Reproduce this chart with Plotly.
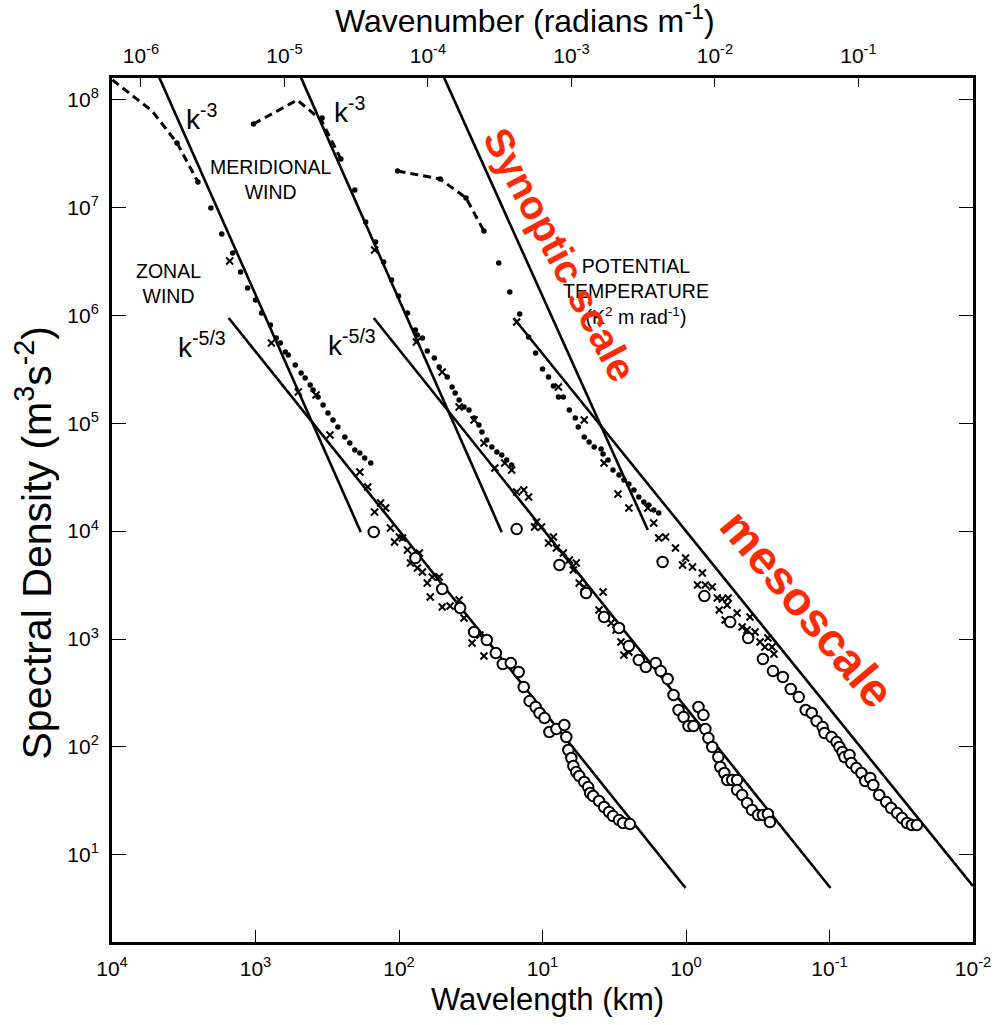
import plotly.graph_objects as go

# All values are log10(wavelength in km) and log10(spectral density)
# ---------------- ZONAL WIND ----------------
zonal_dot_lw = [3.547, 3.401, 3.311, 3.235, 3.159, 3.104, 3.055, 3.000, 2.958, 2.896,
                2.855, 2.827, 2.792, 2.772, 2.723, 2.682, 2.654, 2.619, 2.599, 2.564,
                2.529, 2.495, 2.460, 2.426, 2.377, 2.343, 2.308, 2.273, 2.239, 2.197]
zonal_dot_ls = [7.597, 7.235, 6.994, 6.753, 6.577, 6.401, 6.253, 6.142, 6.021, 5.910,
                5.790, 5.743, 5.660, 5.632, 5.539, 5.465, 5.419, 5.354, 5.308, 5.243,
                5.169, 5.094, 5.030, 4.965, 4.872, 4.816, 4.752, 4.724, 4.677, 4.631]
zonal_x_lw = [3.180, 2.889, 2.702, 2.578, 2.481, 2.273, 2.218, 2.128, 2.093, 2.170,
              2.059, 1.997, 2.031, 1.976, 1.941, 1.920, 1.872, 1.837, 1.858, 1.803,
              1.768, 1.720, 1.782, 1.699, 1.644, 1.581, 1.547, 1.491, 1.408, 1.436]
zonal_x_ls = [6.503, 5.743, 5.289, 5.261, 4.891, 4.548, 4.409, 4.260, 4.214, 4.177,
              4.029, 3.945, 3.899, 3.936, 3.825, 3.704, 3.658, 3.621, 3.797, 3.519,
              3.574, 3.574, 3.389, 3.296, 3.306, 3.361, 3.195, 2.963, 2.842, 3.037]
zonal_o_lw = [2.176, 1.886, 1.699, 1.574, 1.477, 1.388, 1.325, 1.277, 1.221, 1.166,
              1.131, 1.090, 1.048, 1.021, 0.986, 0.952, 0.903, 0.848, 0.834, 0.820,
              0.799, 0.785, 0.765, 0.744, 0.709, 0.682, 0.668, 0.647, 0.606, 0.571,
              0.536, 0.509, 0.467, 0.439, 0.391]
zonal_o_ls = [3.992, 3.751, 3.463, 3.287, 3.065, 2.991, 2.870, 2.768, 2.777, 2.694,
              2.555, 2.425, 2.370, 2.314, 2.268, 2.138, 2.166, 2.203, 2.092, 1.971,
              1.897, 1.823, 1.767, 1.730, 1.675, 1.628, 1.573, 1.545, 1.499, 1.443,
              1.397, 1.359, 1.322, 1.295, 1.285]
zonal_dash_lw = [3.997, 3.720, 3.547, 3.401]
zonal_dash_ls = [8.181, 7.893, 7.597, 7.235]

# ---------------- MERIDIONAL WIND ----------------
merid_dot_lw = [3.014, 2.536, 2.405, 2.308, 2.232, 2.163, 2.107, 2.052, 2.003, 1.941,
                1.886, 1.872, 1.837, 1.803, 1.754, 1.720, 1.664, 1.630, 1.609, 1.581,
                1.547, 1.512, 1.477, 1.443, 1.422, 1.388, 1.353, 1.318, 1.284, 1.249, 1.215]
merid_dot_ls = [7.773, 7.828, 7.448, 7.161, 6.865, 6.679, 6.494, 6.327, 6.179, 6.021,
                5.864, 5.817, 5.790, 5.669, 5.604, 5.521, 5.428, 5.335, 5.280, 5.215,
                5.150, 5.122, 5.048, 4.983, 4.918, 4.844, 4.779, 4.733, 4.705, 4.659, 4.613]
merid_x_lw = [2.170, 1.879, 1.699, 1.581, 1.477, 1.408, 1.332, 1.263, 1.215, 1.180,
              1.131, 1.097, 1.042, 1.007, 1.055, 0.924, 0.958, 0.903, 0.855, 0.813,
              0.765, 0.785, 0.744, 0.709, 0.578, 0.606, 0.522, 0.488, 0.453, 0.398, 0.433]
merid_x_ls = [6.605, 5.752, 5.474, 5.150, 5.030, 4.816, 4.585, 4.631, 4.566, 4.362,
              4.381, 4.316, 4.084, 4.038, 4.038, 3.945, 3.890, 3.843, 3.797, 3.732,
              3.704, 3.639, 3.519, 3.482, 3.435, 3.269, 3.148, 3.083, 2.972, 2.879, 2.852]
merid_o_lw = [1.180, 0.882, 0.696, 0.571, 0.467, 0.398, 0.329, 0.280, 0.211, 0.176,
              0.128, 0.087, 0.052, 0.017, -0.017, -0.052, -0.087, -0.121, -0.135, -0.156,
              -0.183, -0.225, -0.239, -0.267, -0.287, -0.322, -0.356, -0.356, -0.391, -0.426,
              -0.460, -0.502, -0.536, -0.571, -0.585]
merid_o_ls = [4.019, 3.686, 3.426, 3.204, 3.102, 2.935, 2.805, 2.740, 2.777, 2.703,
              2.629, 2.481, 2.342, 2.277, 2.194, 2.194, 2.370, 2.296, 2.166, 2.082,
              1.999, 1.906, 1.814, 1.758, 1.693, 1.693, 1.693, 1.600, 1.554, 1.480,
              1.415, 1.369, 1.369, 1.378, 1.304]
merid_dash_lw = [3.014, 2.709, 2.543, 2.405]
merid_dash_ls = [7.773, 7.995, 7.810, 7.448]

# ---------------- POTENTIAL TEMPERATURE ----------------
pt_dot_lw = [2.010, 1.713, 1.533, 1.408, 1.305, 1.228, 1.159, 1.097, 1.048, 1.000,
             0.958, 0.924, 0.889, 0.855, 0.813, 0.772, 0.751, 0.709, 0.675, 0.640,
             0.592, 0.578, 0.543, 0.509, 0.467, 0.433, 0.398, 0.363, 0.329, 0.294,
             0.260, 0.225, 0.190]
pt_dot_ls = [7.337, 7.263, 7.087, 6.781, 6.485, 6.216, 6.012, 5.799, 5.650, 5.502,
             5.428, 5.345, 5.243, 5.243, 5.122, 5.048, 4.965, 4.872, 4.826, 4.779,
             4.761, 4.714, 4.659, 4.566, 4.520, 4.473, 4.436, 4.381, 4.316, 4.270,
             4.242, 4.195, 4.168]
pt_x_lw = [1.180, 0.889, 0.709, 0.571, 0.474, 0.398, 0.266, 0.225, 0.190, 0.142,
           0.073, 0.003, 0.024, -0.045, -0.114, -0.080, -0.135, -0.183, -0.218, -0.253,
           -0.294, -0.232, -0.287, -0.356, -0.273, -0.391, -0.446, -0.426, -0.481, -0.516,
           -0.571, -0.550, -0.599, -0.613]
pt_x_ls = [5.938, 5.335, 5.030, 4.631, 4.344, 4.214, 4.214, 4.075, 3.936, 3.945,
           3.843, 3.751, 3.686, 3.667, 3.612, 3.500, 3.500, 3.482, 3.380, 3.371,
           3.380, 3.269, 3.315, 3.241, 3.176, 3.111, 3.204, 3.083, 3.065, 2.972,
           3.009, 2.926, 2.926, 2.861]
pt_o_lw = [0.163, -0.128, -0.308, -0.433, -0.536, -0.606, -0.675, -0.730, -0.786, -0.834,
           -0.876, -0.910, -0.952, -0.965, -1.014, -1.049, -1.069, -1.090, -1.104, -1.139,
           -1.152, -1.187, -1.222, -1.249, -1.284, -1.305, -1.346, -1.395, -1.429, -1.471,
           -1.505, -1.540, -1.574, -1.609]
pt_o_ls = [3.714, 3.398, 3.157, 3.009, 2.815, 2.703, 2.648, 2.537, 2.462, 2.342,
           2.314, 2.240, 2.184, 2.129, 2.092, 2.045, 1.999, 1.953, 1.906, 1.925,
           1.851, 1.804, 1.758, 1.684, 1.712, 1.647, 1.554, 1.489, 1.434, 1.387,
           1.341, 1.295, 1.276, 1.276]
pt_dash_lw = [2.010, 1.713, 1.533, 1.408]
pt_dash_ls = [7.337, 7.263, 7.087, 6.781]

# ---------------- reference power-law lines (k^-3, k^-5/3) ----------------
ref_lines = {
    "zonal_k3":  ([3.671, 2.266], [8.205, 3.990]),
    "zonal_k53": ([3.187, 0.003], [5.975, 0.692]),
    "merid_k3":  ([2.682, 1.284], [8.200, 3.990]),
    "merid_k53": ([2.176, -1.007], [5.975, 0.692]),
    "pt_k3":     ([1.685, 0.266], [8.200, 4.010]),
    "pt_k53":    ([1.201, -2.000], [5.975, 0.710]),
}

# ---------------- tick labels ----------------
wl_ticks = [4, 3, 2, 1, 0, -1, -2]
wn_ticks = [-6, -5, -4, -3, -2, -1]
sd_ticks = [1, 2, 3, 4, 5, 6, 7, 8]


def p10(v):
    return [10 ** a for a in v]


fig = go.Figure()

BLACK = "black"
for lw, ls in [(zonal_dash_lw, zonal_dash_ls), (merid_dash_lw, merid_dash_ls),
               (pt_dash_lw, pt_dash_ls)]:
    fig.add_trace(go.Scatter(x=p10(lw), y=p10(ls), mode="lines",
                             line=dict(color=BLACK, width=3, dash="8px,5px"),
                             showlegend=False, hoverinfo="skip"))

for name, (lw, ls) in ref_lines.items():
    fig.add_trace(go.Scatter(x=p10(lw), y=p10(ls), mode="lines",
                             line=dict(color=BLACK, width=2.6),
                             showlegend=False, hoverinfo="skip"))

for lw, ls in [(zonal_dot_lw, zonal_dot_ls), (merid_dot_lw, merid_dot_ls),
               (pt_dot_lw, pt_dot_ls)]:
    fig.add_trace(go.Scatter(x=p10(lw), y=p10(ls), mode="markers",
                             marker=dict(symbol="circle", size=5.5, color=BLACK),
                             showlegend=False))

for lw, ls in [(zonal_x_lw, zonal_x_ls), (merid_x_lw, merid_x_ls),
               (pt_x_lw, pt_x_ls)]:
    fig.add_trace(go.Scatter(x=p10(lw), y=p10(ls), mode="markers",
                             marker=dict(symbol="x-thin", size=7, color=BLACK,
                                         line=dict(width=2, color=BLACK)),
                             showlegend=False))

for lw, ls in [(zonal_o_lw, zonal_o_ls), (merid_o_lw, merid_o_ls),
               (pt_o_lw, pt_o_ls)]:
    fig.add_trace(go.Scatter(x=p10(lw), y=p10(ls), mode="markers",
                             marker=dict(symbol="circle", size=10.5, color="white",
                                         line=dict(width=2, color=BLACK)),
                             showlegend=False))

# invisible trace to activate top axis
fig.add_trace(go.Scatter(x=[10 ** -3], y=[10 ** 4], xaxis="x2", mode="markers",
                         marker=dict(opacity=0), showlegend=False, hoverinfo="skip"))

SANS = "Liberation Sans, Arial, sans-serif"


def sup(e):
    return "10<sup>%d</sup>" % e


fig.update_layout(
    width=1003, height=1025,
    margin=dict(l=112, r=24, t=78, b=83),
    paper_bgcolor="white", plot_bgcolor="white",
    xaxis=dict(type="log", range=[4.0, -2.0], showgrid=False, zeroline=False,
               showline=True, linecolor=BLACK, linewidth=3, mirror=False,
               ticks="inside", ticklen=12, tickwidth=1.2, tickcolor=BLACK,
               tickvals=p10(wl_ticks), ticktext=[sup(e) for e in wl_ticks],
               tickfont=dict(family=SANS, size=21, color=BLACK),
               ticklabelstandoff=6),
    xaxis2=dict(type="log", overlaying="x", side="top",
                range=[-6.2018, -0.2018], showgrid=False, zeroline=False,
                showline=True, linecolor=BLACK, linewidth=3,
                ticks="inside", ticklen=9, tickwidth=1.2, tickcolor=BLACK,
                tickvals=p10(wn_ticks), ticktext=[sup(e) for e in wn_ticks],
                tickfont=dict(family=SANS, size=21, color=BLACK),
                ticklabelstandoff=4),
    yaxis=dict(type="log", range=[0.192, 8.199], showgrid=False, zeroline=False,
               showline=True, linecolor=BLACK, linewidth=3, mirror="ticks",
               ticks="inside", ticklen=14, tickwidth=1.2, tickcolor=BLACK,
               tickvals=p10(sd_ticks), ticktext=[sup(e) for e in sd_ticks],
               tickfont=dict(family=SANS, size=21, color=BLACK),
               ticklabelstandoff=6),
)

ann = []
# axis titles
ann.append(dict(text="Wavelength (km)", xref="paper", yref="paper", x=0.506, y=-0.067,
                xanchor="center", yanchor="middle", showarrow=False,
                font=dict(family=SANS, size=31, color=BLACK)))
ann.append(dict(text="Wavenumber (radians m<sup>-1</sup>)", xref="paper", yref="paper",
                x=0.48, y=1.0683, xanchor="center", yanchor="middle", showarrow=False,
                font=dict(family=SANS, size=32, color=BLACK)))
ann.append(dict(text="Spectral Density (m<sup>3</sup>s<sup>-2</sup>)", xref="paper",
                yref="paper", x=-0.091, y=0.462, xanchor="center", yanchor="middle",
                textangle=-90, showarrow=False,
                font=dict(family=SANS, size=41, color=BLACK)))

# k labels
for (x, y, t) in [(3.374, 7.838, "k<sup>-3</sup>"), (2.343, 7.903, "k<sup>-3</sup>"),
                  (3.374, 5.725, "k<sup>-5/3</sup>"), (2.329, 5.743, "k<sup>-5/3</sup>")]:
    ann.append(dict(text=t, x=x, y=y, xref="x", yref="y", showarrow=False,
                    xanchor="center", yanchor="middle",
                    font=dict(family=SANS, size=28, color=BLACK)))

ann.append(dict(text="MERIDIONAL<br>WIND", x=2.889, y=7.263, xref="x", yref="y",
                showarrow=False, font=dict(family=SANS, size=19.5, color=BLACK)))
ann.append(dict(text="ZONAL<br>WIND", x=3.609, y=6.299, xref="x", yref="y",
                showarrow=False, font=dict(family=SANS, size=19.5, color=BLACK)))
ann.append(dict(text="POTENTIAL<br>TEMPERATURE<br>(K<sup>2</sup> m rad<sup>-1</sup>)",
                x=0.349, y=6.225, xref="x", yref="y", showarrow=False,
                font=dict(family=SANS, size=19.5, color=BLACK)))

RED = "#fe2a06"
ann.append(dict(text="<b>Synoptic scale</b>", x=0.875, y=6.560, xref="x", yref="y",
                textangle=62, showarrow=False,
                font=dict(family=SANS, size=40, color=RED)))
ann.append(dict(text="<b>mesoscale</b>", x=-0.845, y=3.280, xref="x", yref="y",
                textangle=50, showarrow=False,
                font=dict(family=SANS, size=47, color=RED)))

fig.update_layout(annotations=ann)

fig.write_html("out.html")
